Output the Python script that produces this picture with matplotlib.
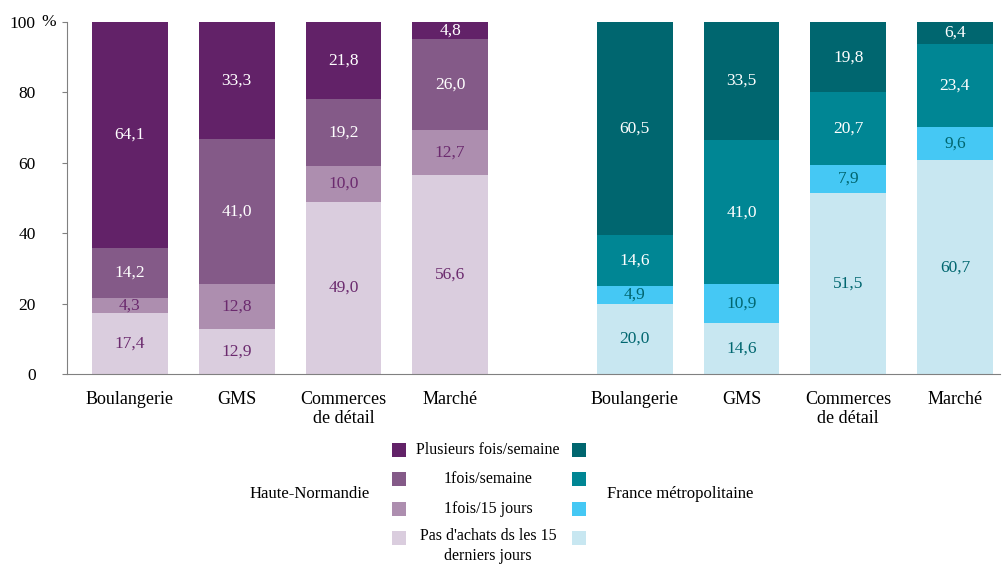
import numpy as np
import matplotlib
matplotlib.use("Agg")
import matplotlib.pyplot as plt
from matplotlib.patches import Rectangle

plt.rcParams['font.family'] = ['Liberation Serif', 'DejaVu Serif']

# ── Data ─────────────────────────────────────────────────────────────────────
categories = ["Boulangerie", "GMS", "Commerces\nde détail", "Marché"]
series_labels = ["Plusieurs fois/semaine", "1fois/semaine", "1fois/15 jours",
                 "Pas d'achats ds les 15\nderniers jours"]

# Haute-Normandie
hn_plusieurs = [64.1, 33.3, 21.8, 4.8]
hn_semaine = [14.2, 41.0, 19.2, 26.0]
hn_15j = [4.3, 12.8, 10.0, 12.7]
hn_aucun = [17.4, 12.9, 49.0, 56.6]

# France métropolitaine
fr_plusieurs = [60.5, 33.5, 19.8, 6.4]
fr_semaine = [14.6, 41.0, 20.7, 23.4]
fr_15j = [4.9, 10.9, 7.9, 9.6]
fr_aucun = [20.0, 14.6, 51.5, 60.7]

hn_colors = ["#622268", "#845a88", "#ad8eaf", "#dacdde"]
fr_colors = ["#00666f", "#008694", "#45c8f4", "#c8e7f1"]
hn_text = ["white", "white", "#6b2a6e", "#6b2a6e"]
fr_text = ["white", "white", "#00666f", "#00666f"]

# ── Plot ─────────────────────────────────────────────────────────────────────
fig = plt.figure(figsize=(10.03, 5.66), dpi=100)
ax = fig.add_axes([0.0668, 0.339, 0.93, 0.622])

x_hn = np.arange(4)
x_fr = np.arange(4) + 4.73
width = 0.71

for xs, stacks, colors, tcols in [
    (x_hn, [hn_plusieurs, hn_semaine, hn_15j, hn_aucun], hn_colors, hn_text),
    (x_fr, [fr_plusieurs, fr_semaine, fr_15j, fr_aucun], fr_colors, fr_text),
]:
    bottom = np.zeros(4)
    # bottom segment (aucun) first, then upwards
    for vals, col, tc in zip(stacks[::-1], colors[::-1], tcols[::-1]):
        vals = np.array(vals)
        ax.bar(xs, vals, width, bottom=bottom, color=col, linewidth=0)
        for xi, b, v in zip(xs, bottom, vals):
            ax.text(xi, b + v / 2, f"{v:.1f}".replace(".", ","), ha="center",
                    va="center", color=tc, fontsize=12.5)
        bottom = bottom + vals

ax.set_ylim(0, 100)
ax.set_xlim(-0.59, 8.15)
ax.set_yticks([0, 20, 40, 60, 80, 100])
ax.set_yticklabels(["0", "20", "40", "60", "80", "100"], fontsize=12.5)
ax.set_xticks(list(x_hn) + list(x_fr))
ax.set_xticklabels(categories * 2, fontsize=13, linespacing=1.15)
ax.tick_params(axis="x", length=0, pad=12)
ax.tick_params(axis="y", length=3.6, color="#808080", pad=19)
for s in ["top", "right"]:
    ax.spines[s].set_visible(False)
for s in ["left", "bottom"]:
    ax.spines[s].set_color("#808080")

W, H = 1003, 566
fig.text(41 / W, 1 - 22 / H, "%", ha="left", va="center", fontsize=12.5)

# ── Legend (custom) ──────────────────────────────────────────────────────────
rows_y = [450, 479, 509, 538]
sw = 14
for i, (lab, ch, cf) in enumerate(zip(series_labels, hn_colors, fr_colors)):
    yc = rows_y[i]
    for x0, c in [(392, ch), (572, cf)]:
        fig.add_artist(Rectangle((x0 / W, 1 - (yc + sw / 2) / H), sw / W, sw / H,
                                 transform=fig.transFigure, color=c, lw=0))
    va = "top" if "\n" in lab else "center"
    ytxt = yc - 10 if "\n" in lab else yc
    fig.text(488 / W, 1 - ytxt / H, lab, ha="center", va=va, fontsize=11.5,
             linespacing=1.35)

fig.text(310 / W, 1 - 494 / H, "Haute-Normandie", ha="center", va="center", fontsize=12)
fig.text(680 / W, 1 - 494 / H, "France métropolitaine", ha="center", va="center", fontsize=12)

fig.savefig("out.png", dpi=100)
